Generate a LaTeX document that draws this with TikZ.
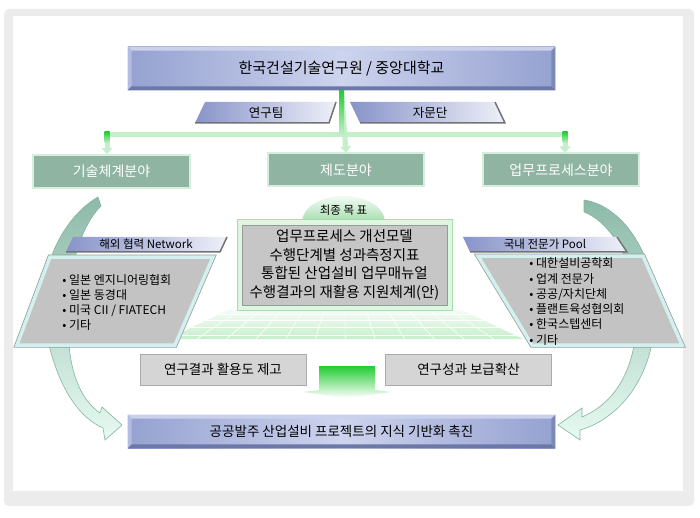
\documentclass[tikz,border=0pt]{standalone}
\usepackage{fontspec}
\setmainfont{Noto Sans CJK KR}
\usetikzlibrary{calc,arrows.meta}

\definecolor{framegray}{HTML}{ECECEC}
\definecolor{bluedk}{HTML}{95A1D0}
\definecolor{bluelt}{HTML}{CDD4EE}
\definecolor{bevtop}{HTML}{CAD1EC}
\definecolor{bevleft}{HTML}{B3BCE0}
\definecolor{bevbot}{HTML}{6C78A7}
\definecolor{bevright}{HTML}{7C88B7}
\definecolor{hdrdk}{HTML}{8893C9}
\definecolor{hdrlt}{HTML}{EEF0F8}
\definecolor{fieldfill}{HTML}{8FB4A1}
\definecolor{fieldedge}{HTML}{D6EEDD}
\definecolor{gbright}{HTML}{22CC33}
\definecolor{gpale}{HTML}{C4EFC9}
\definecolor{arctop}{HTML}{8DBAA8}
\definecolor{arcmid}{HTML}{CDEEE0}
\definecolor{arcbot}{HTML}{E6FAF1}
\definecolor{arcline}{HTML}{86B3A2}
\definecolor{listfill}{HTML}{C3C3C3}
\definecolor{listrim}{HTML}{D3F0EE}
\definecolor{listout}{HTML}{8E9E9E}
\definecolor{grayfill}{HTML}{D5D5D5}
\definecolor{grayedge}{HTML}{AAAAAA}
\definecolor{goalfill}{HTML}{C6C6C6}
\definecolor{goalrim}{HTML}{DDF6E0}
\definecolor{goaledge}{HTML}{A6DDAF}
\definecolor{floorgreen}{HTML}{C6EFCB}

% bevel strips round a box node
\newcommand{\bevelbox}[1]{%
  \fill[bevtop] (#1.north west) -- (#1.north east) -- ([shift={(-4,4)}]#1.north east) -- ([shift={(4,4)}]#1.north west) -- cycle;
  \fill[bevleft] (#1.north west) -- ([shift={(4,4)}]#1.north west) -- ([shift={(4,-4)}]#1.south west) -- (#1.south west) -- cycle;
  \fill[bevright] (#1.north east) -- ([shift={(-4,4)}]#1.north east) -- ([shift={(-4,-4)}]#1.south east) -- (#1.south east) -- cycle;
  \fill[bevbot] (#1.south west) -- (#1.south east) -- ([shift={(-4,-4)}]#1.south east) -- ([shift={(4,-4)}]#1.south west) -- cycle;
}

\begin{document}
\begin{tikzpicture}[x=1pt,y=-1pt,thick,
  bluebox/.style={minimum width=427pt,inner sep=0pt,left color=bluedk,right color=bluedk,middle color=bluelt},
  hdrshade/.style={left color=hdrdk,right color=hdrlt},
  hdrshadow/.style={draw=black!55,line width=1.5pt},
  fieldbox/.style={draw=fieldedge,line width=2pt,fill=fieldfill,text=white,minimum height=33pt,inner sep=0pt,font=\fontsize{14}{16}\selectfont},
  graybox/.style={draw=grayedge,line width=1pt,fill=grayfill,minimum width=166pt,minimum height=31pt,inner sep=0pt,font=\fontsize{13.5}{15}\selectfont},
  stub/.style={draw=gpale,line width=5pt,-{Triangle[width=11pt,length=6pt]}},
  arcshade/.style={top color=arctop,middle color=arcmid,bottom color=arcbot,draw=arcline,line width=0.6pt},
  listbox/.style={fill=listfill,draw=listrim,line width=3.5pt,preaction={draw=listout,line width=5pt}},
  listtext/.style={align=left,inner sep=0pt,font=\fontsize{12}{15.3}\selectfont},
  gridline/.style={draw=white,line width=0.6pt}]
\useasboundingbox (0,0) rectangle (700,518);
% frame
\fill[framegray,rounded corners=5pt] (4,9) rectangle (694,506);
\fill[white] (13,16) rectangle (683,491);

% side arcs
\shade[arcshade] (98,197) .. controls (55,222) and (30,290) .. (49,345) .. controls (60,390) and (80,418) .. (103,428)
  -- (105,440) -- (122,425) -- (102,407) -- (100,413) .. controls (84,402) and (72,380) .. (69,345)
  .. controls (64,290) and (75,232) .. (101,206) -- cycle;
\shade[arcshade] (584,200) .. controls (625,206) and (662,262) .. (654,330) .. controls (648,385) and (615,420) .. (580,430)
  -- (580,440) -- (558,425) -- (582,408) -- (582,417) .. controls (610,405) and (632,378) .. (636,330)
  .. controls (640,272) and (615,224) .. (584,212) -- cycle;

% top
\node[bluebox,minimum height=43pt,font=\fontsize{15}{17}\selectfont] (kict) at (341.5,68.5) {한국건설기술연구원 / 중앙대학교};
\bevelbox{kict}

% team tags
\shade[hdrshade] (205,102) -- (336,102) -- (329,123) -- (195,123) -- cycle;
\draw[hdrshadow] (195,123) -- (329,123) -- (336,102);
\node[font=\fontsize{12.5}{14}\selectfont] (team) at (266,112.5) {연구팀};
\shade[hdrshade] (350,102) -- (495,102) -- (505,123) -- (360,123) -- cycle;
\draw[hdrshadow] (360,123) -- (505,123) -- (495,102);
\node[font=\fontsize{12.5}{14}\selectfont] (advice) at (430,112.5) {자문단};

% fields
\node[fieldbox,minimum width=157pt] (tech) at (111.5,171.5) {기술체계분야};
\node[fieldbox,minimum width=156pt] (inst) at (346,170) {제도분야};
\node[fieldbox,minimum width=156pt] (proc) at (561,170) {업무프로세스분야};

% connectors
\coordinate (barL) at (107,135);
\coordinate (barR) at (565,135);
\draw[gpale,line width=5pt] (barL) -- (barR);
\draw[stub] (kict.south) -- (inst.north);
\draw[stub] (barL) -- (barL |- tech.north);
\draw[stub] (barR) -- (barR |- proc.north);
\shade[top color=gbright,bottom color=gpale] ([xshift=-2.5pt]kict.south) rectangle ($(kict.south)+(2.5,45)$);
\shade[top color=gbright,bottom color=gpale] ($(barL)+(-2.5,-3)$) rectangle ($(barL)+(2.5,8)$);
\shade[top color=gbright,bottom color=gpale] ($(barR)+(-2.5,-3)$) rectangle ($(barR)+(2.5,8)$);

% floor grid
\begin{scope}
\clip (243,303) -- (447,303) -- (523,339) -- (167,339) -- cycle;
\shade[top color=white,bottom color=floorgreen] (167,303) rectangle (523,339);
\foreach \yy in {309,314,320,327,335} \draw[gridline] (150,\yy) -- (540,\yy);
\foreach \xx in {0,...,12} \draw[gridline] (345,240) -- ({167+\xx*29.7},339);
\end{scope}

% goals
\shade[top color=white!60!goalrim,bottom color=goaledge] (302,222) arc[start angle=180,end angle=360,x radius=41.5,y radius=26];
\node[font=\fontsize{11.5}{13}\selectfont] (goalhdr) at (343.5,210) {최종 목 표};
\fill[goalrim,draw=goaledge,line width=1pt] (237,220) rectangle (452,310);
\node[fill=goalfill,draw=black!40,line width=0.8pt,minimum width=205pt,minimum height=80pt,align=center,inner sep=0pt,
  font=\fontsize{14.5}{18.8}\selectfont] (goals) at (344.5,265)
  {업무프로세스 개선모델\\수행단계별 성과측정지표\\통합된 산업설비 업무매뉴얼\\수행결과의 재활용 지원체계(안)};

% abroad network
\shade[hdrshade] (73,237) -- (227,237) -- (220,252) -- (66,252) -- cycle;
\draw[hdrshadow] (66,252) -- (220,252) -- (227,237);
\node[font=\fontsize{11.5}{13}\selectfont] (abroad) at (146,244.5) {해외 협력 Network};
\draw[listbox] (50,257) -- (213,257) -- (175,345) -- (17,345) -- cycle;
\node[listtext,anchor=west] (abroadlist) at (62,302.5)
  {• 일본 엔지니어링협회\\• 일본 동경대\\• 미국 CII / FIATECH\\• 기타};

% domestic pool
\shade[hdrshade] (463,237) -- (617,237) -- (627,252) -- (470,252) -- cycle;
\draw[hdrshadow] (470,252) -- (627,252) -- (617,237);
\node[font=\fontsize{11.5}{13}\selectfont] (domestic) at (545,244.5) {국내 전문가 Pool};
\draw[listbox] (478,256) -- (643,256) -- (682,345) -- (532,345) -- cycle;
\node[listtext,anchor=west] (domlist) at (529,301.5)
  {• 대한설비공학회\\• 업계 전문가\\• 공공/자치단체\\• 플랜트육성협의회\\• 한국스텝센터\\• 기타};

% results
\node[graybox] (use) at (223,369.5) {연구결과 활용도 제고};
\node[graybox] (spread) at (468.5,369.5) {연구성과 보급확산};
\shade[top color=gbright,middle color=gpale!70,bottom color=white] (319,366) -- (375,366) -- (375,390) -- (392,392) -- (347,398) -- (303,392) -- (319,390) -- cycle;

% final goal
\node[bluebox,minimum height=33pt,font=\fontsize{13.5}{15}\selectfont] (final) at (341.5,431.5) {공공발주 산업설비 프로젝트의 지식 기반화 촉진};
\bevelbox{final}
\end{tikzpicture}
\end{document}
